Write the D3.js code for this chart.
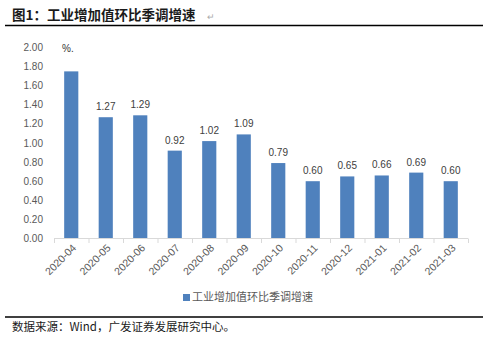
<!DOCTYPE html>
<html><head><meta charset="utf-8">
<script src="https://cdn.jsdelivr.net/npm/d3@7"></script>
<style>body{margin:0;background:#fff}svg{display:block}</style>
</head><body>
<svg id="c" width="484" height="341"></svg>
<script>
const categories = ["2020-04","2020-05","2020-06","2020-07","2020-08","2020-09","2020-10","2020-11","2020-12","2021-01","2021-02","2021-03"];
const values = [1.75,1.27,1.29,0.92,1.02,1.09,0.79,0.60,0.65,0.66,0.69,0.60];
const showLabel = [false,true,true,true,true,true,true,true,true,true,true,true];
const yTicks = [0,0.2,0.4,0.6,0.8,1.0,1.2,1.4,1.6,1.8,2.0];
const seriesName = "工业增加值环比季调增速";
const titleText = "图1：工业增加值环比季调增速";
const sourceText = "数据来源：Wind，广发证券发展研究中心。";

const svg = d3.select("#c");
const grey = "#595959";
const cn = "'Noto Sans CJK SC', sans-serif";
const lat = "'Liberation Sans', Arial, sans-serif";
const rows = categories.map((c,i)=>({c, v:values[i], show:showLabel[i]}));

// title
svg.append("text").attr("x",12).attr("y",20).attr("font-family",cn).attr("font-weight","bold")
  .attr("font-size",13.5).attr("fill","#1a1a1a").text(titleText);
svg.append("text").attr("x",207).attr("y",20).attr("font-family",lat).attr("font-size",9)
  .attr("fill","#aaa").text("↵");
svg.append("line").attr("x1",5).attr("x2",483).attr("y1",25.5).attr("y2",25.5).attr("stroke","#000").attr("stroke-width",1.5);
svg.append("line").attr("x1",5).attr("x2",483).attr("y1",317).attr("y2",317).attr("stroke","#000").attr("stroke-width",1.5);

const x = d3.scaleBand().domain(categories).range([54,468]).paddingInner(0.59).paddingOuter(0.295);
const y = d3.scaleLinear().domain([0,2]).range([238.5,47.5]);

// y axis labels
svg.append("g").selectAll("text").data(yTicks).join("text")
  .attr("x",43).attr("y",d=>y(d)).attr("dy","0.35em").attr("text-anchor","end")
  .attr("font-family",lat).attr("font-size",10).attr("fill",grey).text(d=>d.toFixed(2));

svg.append("text").attr("x",62).attr("y",52).attr("font-family",lat).attr("font-size",10).attr("fill","#333").text("%.");

// bars
svg.append("g").selectAll("rect").data(rows).join("rect")
  .attr("x",d=>x(d.c)).attr("width",x.bandwidth())
  .attr("y",d=>y(d.v)).attr("height",d=>y(0)-y(d.v)).attr("fill","#4F81BD");

svg.append("g").selectAll("text").data(rows.filter(d=>d.show)).join("text")
  .attr("x",d=>x(d.c)+x.bandwidth()/2).attr("y",d=>y(d.v)-7)
  .attr("text-anchor","middle").attr("font-family",lat).attr("font-size",10).attr("fill","#404040")
  .text(d=>d.v.toFixed(2));

// x axis
const band = d3.scaleBand().domain(categories).range([54,468]);
const ax = svg.append("g");
ax.append("line").attr("x1",54).attr("x2",468).attr("y1",238.5).attr("y2",238.5).attr("stroke","#d9d9d9");
ax.selectAll("line.t").data(categories.concat(["end"])).join("line").attr("class","t")
  .attr("x1",(d,i)=>54+i*band.step()+0.5).attr("x2",(d,i)=>54+i*band.step()+0.5)
  .attr("y1",238.5).attr("y2",243).attr("stroke","#d9d9d9");
ax.selectAll("text").data(categories).join("text")
  .attr("transform",d=>`translate(${band(d)+band.bandwidth()/2+3},${246}) rotate(-45)`)
  .attr("text-anchor","end").attr("dy","0.35em").attr("font-family",lat).attr("font-size",10.5)
  .attr("fill",grey).text(d=>d);

// legend
svg.append("rect").attr("x",183).attr("y",294).attr("width",7).attr("height",7).attr("fill","#4F81BD");
svg.append("text").attr("x",192).attr("y",297.5).attr("dy","0.35em").attr("font-family",cn)
  .attr("font-size",11).attr("fill",grey).text(seriesName);

// source
svg.append("text").attr("x",12).attr("y",331).attr("font-family",cn).attr("font-size",11.5)
  .attr("fill","#1a1a1a").text(sourceText);
</script>
</body></html>
